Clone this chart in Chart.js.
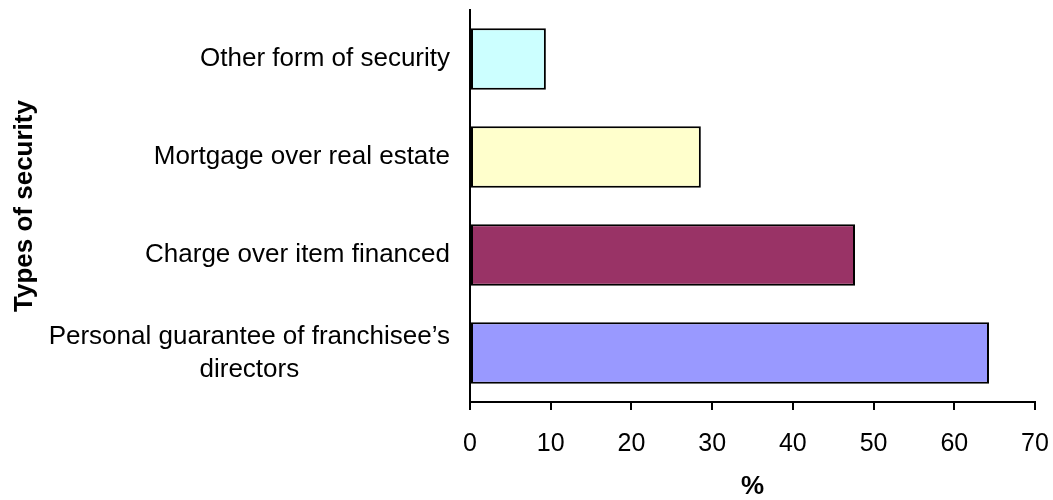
<!DOCTYPE html>
<html>
<head>
<meta charset="utf-8">
<script src="https://cdn.jsdelivr.net/npm/chart.js@4"></script>
<style>
    body { margin: 0; background: #fff; }
</style>
</head>
<body>
<canvas id="securityChart" width="1053" height="500"></canvas>
<script>
// Categories, top to bottom; a label may be split over several lines
const categories = [
    ['Other form of security'],
    ['Mortgage over real estate'],
    ['Charge over item financed'],
    ['Personal guarantee of franchisee\u2019s', 'directors']
];
const shares = [9.4, 28.6, 47.7, 64.3];
const barColors = ['#CCFFFF', '#FFFFCC', '#993366', '#9999FF'];
const xMin = 0;
const xMax = 70;
const xStep = 10;

const fontFamily = '"Liberation Sans", Arial, sans-serif';
const labelLineHeight = 33;

// Category labels: each block sits right next to the axis, lines inside a block are centred
const categoryLabels = {
    id: 'categoryLabels',
    afterDraw(chart) {
        const ctx = chart.ctx;
        const yScale = chart.scales.y;
        ctx.save();
        ctx.font = '26px ' + fontFamily;
        ctx.fillStyle = '#000';
        ctx.textAlign = 'center';
        ctx.textBaseline = 'middle';
        categories.forEach(function(lines, i) {
            const y = yScale.getPixelForTick(i);
            const widest = Math.max.apply(null, lines.map(function(l) { return ctx.measureText(l).width; }));
            const cx = yScale.right - 20 - widest / 2;
            lines.forEach(function(line, j) {
                ctx.fillText(line, cx, y + (j - (lines.length - 1) / 2) * labelLineHeight);
            });
        });
        ctx.restore();
    }
};

const securityConfig = {
    type: 'bar',
    data: {
        labels: categories.map(function(c) { return c.join(' '); }),
        datasets: [{
            data: shares,
            backgroundColor: barColors,
            borderColor: '#000',
            borderWidth: 2,
            borderSkipped: false,
            barPercentage: 0.63,
            categoryPercentage: 1
        }]
    },
    options: {
        indexAxis: 'y',
        responsive: false,
        animation: false,
        devicePixelRatio: 1,
        layout: { padding: { top: 10, right: 18, left: 0, bottom: 0 } },
        plugins: {
            legend: { display: false },
            tooltip: { enabled: false }
        },
        scales: {
            x: {
                min: xMin,
                max: xMax,
                afterFit: function(scale) {
                    scale.height = 98;
                    scale.paddingLeft = 0;
                    scale.paddingRight = 0;
                },
                grid: {
                    drawOnChartArea: false,
                    drawTicks: true,
                    tickLength: 8,
                    color: '#000',
                    lineWidth: 2
                },
                border: { display: true, color: '#000', width: 2 },
                ticks: {
                    stepSize: xStep,
                    color: '#000',
                    padding: 19,
                    font: { family: fontFamily, size: 25 }
                },
                title: {
                    display: true,
                    text: '%',
                    color: '#000',
                    padding: { top: 0, bottom: 0 },
                    font: { family: fontFamily, size: 26, weight: 'bold', lineHeight: 1 }
                }
            },
            y: {
                afterFit: function(scale) { scale.width = 470; },
                grid: { display: false },
                border: { display: true, color: '#000', width: 2 },
                ticks: { display: false },
                title: {
                    display: true,
                    text: 'Types of security',
                    color: '#000',
                    padding: { top: 12, bottom: 0 },
                    font: { family: fontFamily, size: 26, weight: 'bold', lineHeight: 1 }
                }
            }
        }
    },
    plugins: [categoryLabels]
};

const securityChart = new Chart(
    document.getElementById('securityChart'),
    securityConfig
);
</script>
</body>
</html>
